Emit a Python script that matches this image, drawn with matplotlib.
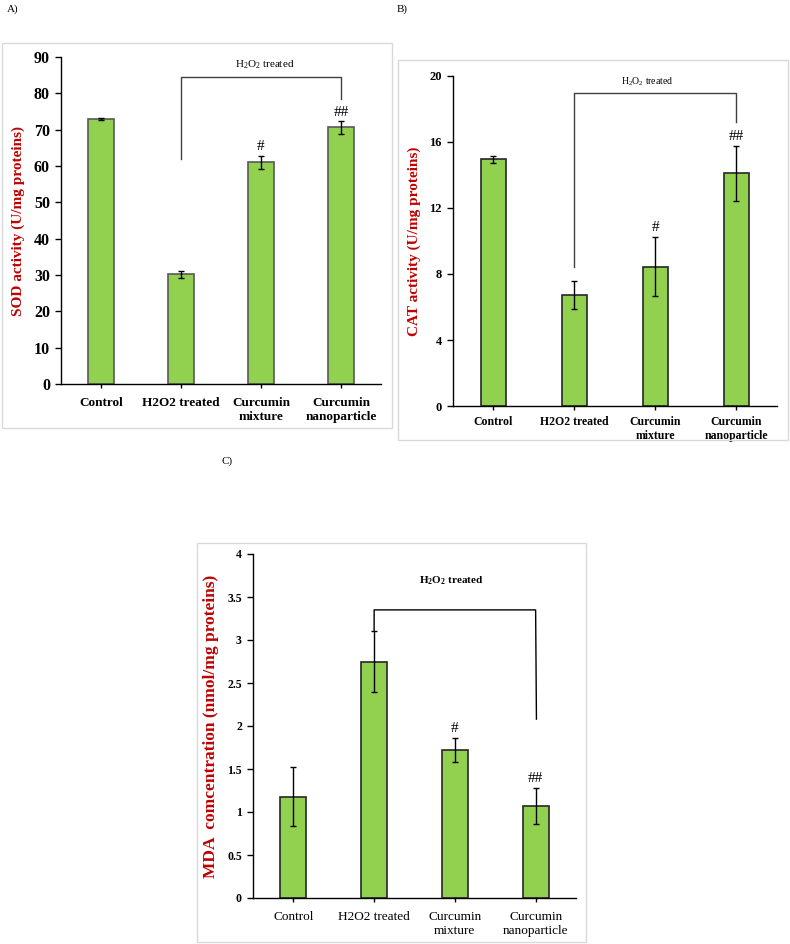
import matplotlib.pyplot as plt
from matplotlib.patches import Rectangle

plt.rcParams['font.family'] = ['Liberation Serif', 'DejaVu Serif']
plt.rcParams['mathtext.fontset'] = 'custom'
plt.rcParams['mathtext.rm'] = 'Liberation Serif'

groups = ['Control', 'H2O2 treated', 'Curcumin\nmixture', 'Curcumin\nnanoparticle']

sod = [73.0, 30.2, 61.0, 70.6]
sod_err = [0.25, 0.9, 1.8, 1.7]
sod_marks = ['', '', '#', '##']

cat = [14.95, 6.75, 8.45, 14.1]
cat_err = [0.2, 0.85, 1.8, 1.65]
cat_marks = ['', '', '#', '##']

mda = [1.18, 2.75, 1.72, 1.07]
mda_err = [0.34, 0.35, 0.14, 0.21]
mda_marks = ['', '', '#', '##']

W, H = 790, 944
green = '#92D050'
red = '#C00000'
fig = plt.figure(figsize=(W / 100, H / 100), dpi=100)


def px_box(x0, y0, x1, y1):
    return [x0 / W, 1 - y1 / H, (x1 - x0) / W, (y1 - y0) / H]


def frame(x0, y0, x1, y1):
    b = px_box(x0, y0, x1, y1)
    fig.patches.append(Rectangle((b[0], b[1]), b[2], b[3], transform=fig.transFigure,
                                 fill=False, edgecolor='#d9d9d9', lw=1))


def panel(box, vals, errs, marks, ymax, yticks, ylabel, edge, ytick_fs, xtick_bold, xtick_fs,
          ylab_fs, xpad):
    ax = fig.add_axes(px_box(*box))
    x = range(len(vals))
    ax.bar(x, vals, width=0.32, color=green, edgecolor=edge, lw=1.2, zorder=2)
    ax.errorbar(x, vals, yerr=errs, fmt='none', ecolor='black', elinewidth=1, capsize=2.5,
                capthick=1, zorder=3)
    ax.set_xlim(-0.5, 3.5)
    ax.set_ylim(0, ymax)
    ax.set_yticks(yticks)
    ax.set_yticklabels([f'{t:g}' for t in yticks], fontsize=ytick_fs, fontweight='bold')
    ax.set_xticks(list(x))
    ax.set_xticklabels(groups, fontsize=xtick_fs, fontweight='bold' if xtick_bold else 'normal',
                       linespacing=1.3)
    ax.tick_params(axis='y', length=4, width=1, pad=4)
    ax.tick_params(axis='x', length=3, width=1, pad=xpad)
    for s in ['top', 'right']:
        ax.spines[s].set_visible(False)
    for s in ['left', 'bottom']:
        ax.spines[s].set_linewidth(1)
    ax.set_ylabel(ylabel, color=red, fontweight='bold', fontsize=ylab_fs, labelpad=6)
    for i, m in enumerate(marks):
        if m:
            ax.text(i, vals[i] + errs[i] + ymax * 0.008, m, ha='center', va='bottom',
                    fontsize=11)
    return ax


# A
frame(2, 43, 392, 428)
axA = panel((61, 57, 381, 384), sod, sod_err, sod_marks, 90, range(0, 91, 10),
            'SOD activity (U/mg proteins)', '#595959', 11.5, True, 9.5, 11, 6)
axA.plot([1, 1, 3, 3], [62, 84.5, 84.5, 78.5], color='#404040', lw=1, zorder=1)
axA.text(2.05, 86.2, r'$\mathregular{H_2O_2}$ treated', ha='center', va='bottom', fontsize=8)
fig.text(7 / W, 1 - 12 / H, 'A)', fontsize=8)

# B
frame(398, 60, 788, 440)
axB = panel((453, 76, 777, 406), cat, cat_err, cat_marks, 20, range(0, 21, 4),
            'CAT activity (U/mg proteins)', '#262626', 9, True, 8.5, 11, 4)
axB.plot([1, 1, 3, 3], [8.4, 19.0, 19.0, 17.2], color='#404040', lw=1, zorder=1)
axB.text(1.9, 19.3, r'$\mathregular{H_2O_2}$ treated', ha='center', va='bottom', fontsize=7)
fig.text(397 / W, 1 - 12 / H, 'B)', fontsize=8)

# C
frame(197, 543, 586, 942)
axC = panel((253, 554, 576, 898), mda, mda_err, mda_marks, 4,
            [0, 0.5, 1, 1.5, 2, 2.5, 3, 3.5, 4],
            'MDA  comcentration (nmol/mg proteins)', '#262626', 8.5, False, 9.5, 12.5, 6)
axC.plot([1, 1, 3, 3.01], [3.1, 3.35, 3.35, 2.08], color='black', lw=1, zorder=1)
axC.text(1.95, 3.62, r'$\mathregular{H_2O_2}$ treated', ha='center', va='bottom', fontsize=8,
         fontweight='bold')
fig.text(222 / W, 1 - 464 / H, 'C)', fontsize=8)

fig.savefig('out.png', dpi=100)
